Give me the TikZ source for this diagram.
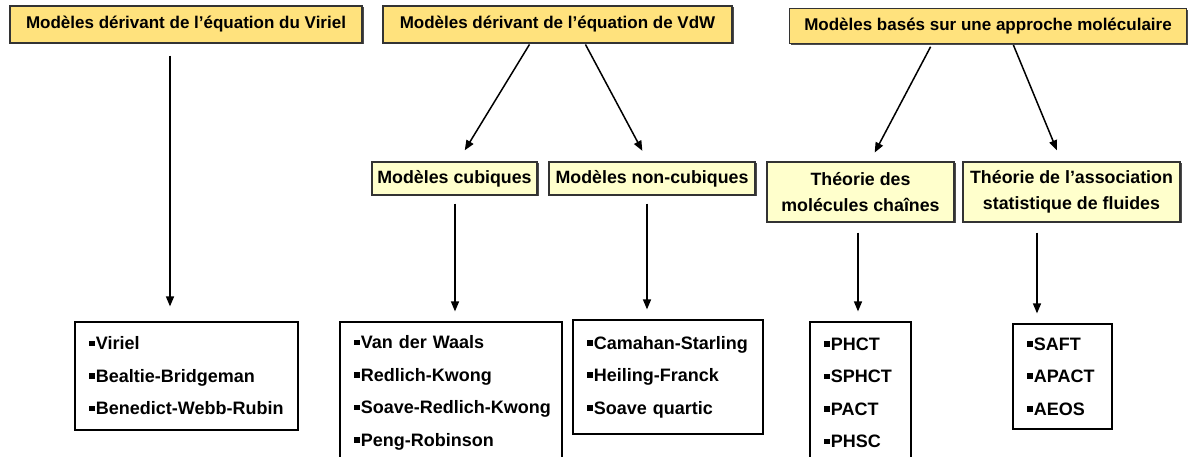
\documentclass[tikz,border=0pt]{standalone}
\usepackage{fontspec}
\setmainfont{Liberation Sans}
\usepackage{tikz}
\usetikzlibrary{arrows.meta}
\usetikzlibrary{shadows}
\usepackage{xcolor}

\definecolor{hdryellow}{RGB}{255,226,125}
\definecolor{subyellow}{RGB}{255,255,204}

\newcommand{\entry}[1]{\mbox{\rule[0.2em]{0.32em}{0.32em}\hspace{0.06em}#1}}

\tikzset{
	hdrbox/.style={rectangle,draw=black!80,line width=1.2pt,fill=hdryellow,inner sep=0pt,
		font=\fontsize{17}{20}\selectfont\bfseries,
		drop shadow={shadow xshift=1.5pt,shadow yshift=-1.5pt,fill=black!70,opacity=1}},
	subbox/.style={rectangle,draw=black!80,line width=1.2pt,fill=subyellow,inner sep=0pt,align=center,
		font=\fontsize{17.8}{26}\selectfont\bfseries,
		drop shadow={shadow xshift=1.5pt,shadow yshift=-1.5pt,fill=black!70,opacity=1}},
	listbox/.style={rectangle,draw,line width=1.2pt,fill=white,inner ysep=0pt,inner xsep=14pt,align=left,
		font=\fontsize{18}{32.5}\selectfont\bfseries},
	arr/.style={-{Triangle[length=10pt,width=8pt]},line width=1.5pt}
}

\begin{document}
\begin{tikzpicture}[x=1pt,y=-1pt]
	\clip (0,0) rectangle (1189,457);
	\fill[white] (0,0) rectangle (1189,457);
	% top row
	\node[hdrbox,minimum width=352,minimum height=37] (HdrViriel) at (186,24.5) {Modèles dérivant de l’équation du Viriel};
	\node[hdrbox,minimum width=349,minimum height=37] (HdrVdW) at (557.5,24.5) {Modèles dérivant de l’équation de VdW};
	\node[hdrbox,minimum width=397,minimum height=35] (HdrMol) at (988,26) {Modèles basés sur une approche moléculaire};
	% middle row
	\node[subbox,minimum width=165,minimum height=33] (Cubic) at (454.5,178.5) {Modèles cubiques};
	\node[subbox,minimum width=206,minimum height=33] (NonCubic) at (652,178.5) {Modèles non-cubiques};
	\node[subbox,minimum width=187,minimum height=60] (Chains) at (860.5,192) {Théorie des\\molécules chaînes};
	\node[subbox,minimum width=217,minimum height=60] (Assoc) at (1071.5,192) {Théorie de l’association\\statistique de fluides};
	% bottom row
	\node[listbox,text width=195,minimum height=108] (ListViriel) at (186.5,376) {\entry{Viriel}\\\entry{Bealtie-Bridgeman}\\\entry{Benedict-Webb-Rubin}};
	\node[listbox,text width=194,minimum height=142] (ListCubic) at (451,393) {\entry{Van der Waals}\\\entry{Redlich-Kwong}\\\entry{Soave-Redlich-Kwong}\\\entry{Peng-Robinson}};
	\node[listbox,text width=162,minimum height=114] (ListNonCubic) at (668,377) {\entry{Camahan-Starling}\\\entry{Heiling-Franck}\\\entry{Soave quartic}};
	\node[listbox,text width=73,minimum height=142] (ListChains) at (860.5,393) {\entry{PHCT}\\\entry{SPHCT}\\\entry{PACT}\\\entry{PHSC}};
	\node[listbox,text width=71,minimum height=105] (ListAssoc) at (1062.5,376.5) {\entry{SAFT}\\\entry{APACT}\\\entry{AEOS}};
	% arrows
	\draw[arr,shorten <=12pt,shorten >=15pt] ([xshift=-16pt]HdrViriel.south) -- ([xshift=-16.5pt]ListViriel.north);
	\draw[arr,shorten <=1pt,shorten >=13pt] ([xshift=-27.5pt]HdrVdW.south) -- ([xshift=3.5pt]Cubic.north);
	\draw[arr,shorten <=1pt,shorten >=12pt] ([xshift=27.5pt]HdrVdW.south) -- ([xshift=-4pt]NonCubic.north);
	\draw[arr,shorten <=3pt,shorten >=10pt] ([xshift=-56pt]HdrMol.south) -- ([xshift=9.5pt]Chains.north);
	\draw[arr,shorten <=1pt,shorten >=12pt] ([xshift=25pt]HdrMol.south) -- ([xshift=-10pt]Assoc.north);
	\draw[arr,shorten <=8pt,shorten >=10pt] ([xshift=0.5pt]Cubic.south) -- ([xshift=4pt]ListCubic.north);
	\draw[arr,shorten <=8pt,shorten >=10pt] ([xshift=-5pt]NonCubic.south) -- ([xshift=-21pt]ListNonCubic.north);
	\draw[arr,shorten <=10pt,shorten >=10pt] ([xshift=-2.5pt]Chains.south) -- ([xshift=-2.5pt]ListChains.north);
	\draw[arr,shorten <=10pt,shorten >=10pt] ([xshift=-34.5pt]Assoc.south) -- ([xshift=-25.5pt]ListAssoc.north);
\end{tikzpicture}
\end{document}
